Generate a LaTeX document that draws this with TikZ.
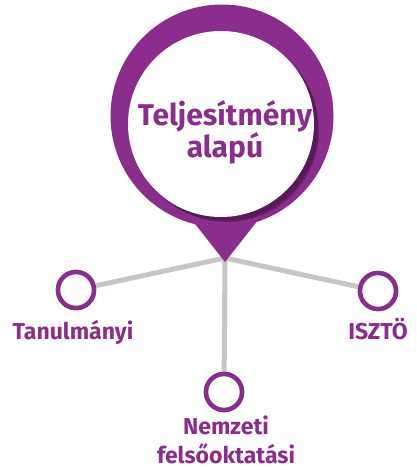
\documentclass[tikz,border=0pt]{standalone}
\usepackage{fontspec}
\setmainfont{Fira Sans}
\definecolor{purp}{HTML}{8B2D8C}
\definecolor{purpdark}{HTML}{3E1043}
\definecolor{linegray}{HTML}{C6C6C6}
\begin{document}
\begin{tikzpicture}[x=1pt,y=-1pt,
  conn/.style={draw=linegray,line width=5pt},
  small/.style={circle,draw=purp,line width=4.5pt,fill=white,minimum size=36pt,inner sep=0pt},
  lbl/.style={text=purp,font=\bfseries\fontsize{23}{29}\selectfont,align=center,inner sep=0pt,anchor=base},
  title/.style={text=purp,font=\bfseries\fontsize{30}{31}\selectfont,align=center,inner sep=0pt,anchor=base}]
\useasboundingbox (0,0) rectangle (416,470);
\coordinate (tip) at (225,258);
\node[small] (L) at (76,290) {};
\node[small] (R) at (378,291) {};
\node[small] (B) at (224,392) {};
\draw[conn] (tip) -- (L);
\draw[conn] (tip) -- (R);
\draw[conn] (tip) -- (B);
\node[small] at (L) {};
\node[small] at (R) {};
\node[small] at (B) {};
% pointer
\fill[purp] (188,215) -- (225,262) -- (262,215) -- cycle;
% big circle
\fill[purp] (222,116) circle (111.5);
\foreach \i/\o in {0/0.08,1/0.10,2/0.13,3/0.16,4/0.20,5/0.25} {
  \fill[purpdark,opacity=\o] (223+\i*0.9,126+\i*0.9) circle (94.5-\i*0.6);
}
\node[circle,fill=white,minimum size=186pt,inner sep=0pt] (C) at (221,124) {};
\node[title] (T) at (225,158) {Teljesítmény\\alapú};
% labels
\node[lbl] (tL) at (73,339) {Tanulmányi};
\node[lbl] (tR) at (378,339) {ISZTÖ};
\node[lbl] (tB) at (226,463) {Nemzeti\\felsőoktatási};
\end{tikzpicture}
\end{document}
